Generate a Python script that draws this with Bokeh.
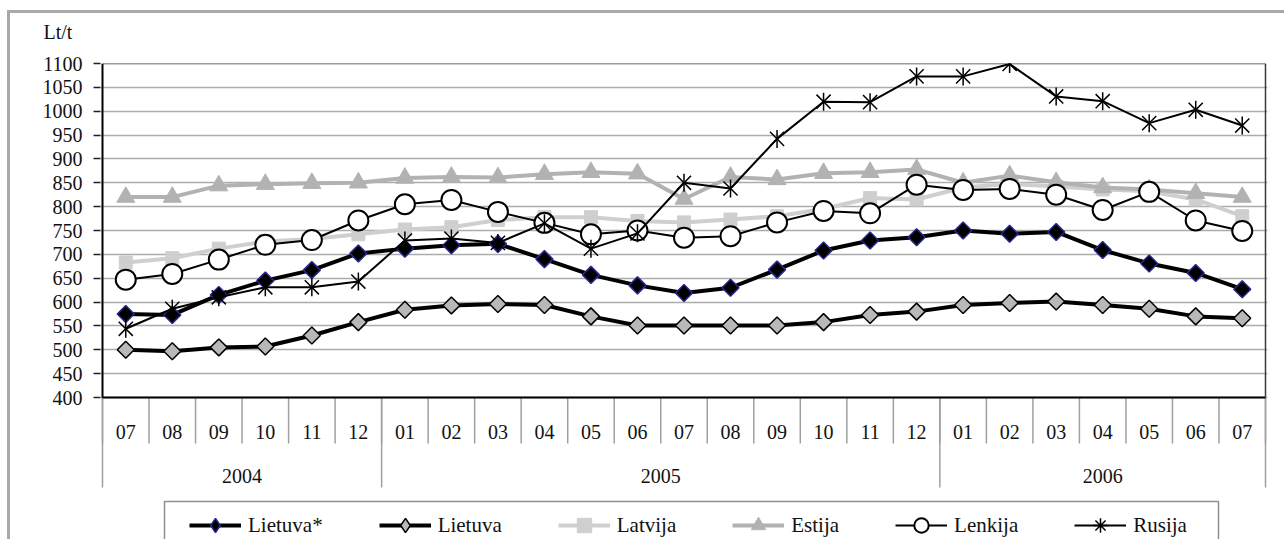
import numpy as np
from bokeh.plotting import figure
from bokeh.models import Range1d, FixedTicker, Legend, LegendItem
from bokeh.core.properties import value
from bokeh.embed import file_html
from bokeh.resources import INLINE

# ---- data ----
months = ["07", "08", "09", "10", "11", "12",
          "01", "02", "03", "04", "05", "06", "07", "08", "09", "10", "11", "12",
          "01", "02", "03", "04", "05", "06", "07"]
years = ["2004", "2005", "2006"]
year_counts = [6, 12, 7]

lietuva_star = [575, 573, 615, 645, 667, 702, 712, 719, 722, 690, 657, 635, 619, 630, 668,
                708, 729, 736, 750, 743, 747, 709, 681, 661, 627]
lietuva = [500, 497, 505, 507, 530, 558, 584, 593, 596, 594, 570, 551, 551, 551, 551,
           558, 573, 580, 594, 598, 601, 594, 586, 570, 566]
latvija = [683, 692, 712, 727, 732, 742, 752, 757, 772, 778, 778, 770, 767, 773, 780,
           795, 818, 815, 840, 848, 842, 836, 832, 815, 780]
estija = [820, 820, 844, 847, 849, 850, 860, 862, 861, 868, 872, 869, 816, 862, 857,
          870, 872, 878, 850, 865, 851, 840, 836, 828, 820]
lenkija = [647, 659, 689, 720, 730, 771, 805, 814, 789, 766, 742, 750, 735, 738, 767,
           791, 786, 846, 835, 837, 825, 793, 831, 771, 749]
rusija = [544, 586, 610, 631, 631, 643, 729, 733, 724, 765, 712, 744, 850, 838, 942,
          1020, 1019, 1073, 1073, 1099, 1031, 1021, 975, 1003, 970]

y_ticks = list(range(400, 1101, 50))
unit_label = "Lt/t"

# ---- layout (pixels) ----
FONT = "Liberation Serif"
n = len(months)
x = list(range(n))
Y0, Y1 = 400, 1100
W, H = 1284, 539
PLOT_H = 334                      # pixel height of the 400..1100 band
UPP = (Y1 - Y0) / PLOT_H          # value units per pixel
FRAME_TOP = 63
FRAME_H = H - FRAME_TOP           # frame extends below the band to hold the category rows
CAT_W = 46.52                     # pixels per category
INSET = 2                         # px of frame beyond the outer category boundaries
FRAME_LEFT = 100
FRAME_W = int(round(n * CAT_W + 2 * INSET))
BAND_LEFT_PX = FRAME_LEFT + INSET

def below(px):
    return Y0 - px * UPP

def page_x(px):
    return -0.5 + (px - BAND_LEFT_PX) / CAT_W

y_start = Y1 - FRAME_H * UPP
x_pad = INSET / CAT_W

BORDER = "linear-gradient(#a9a9a9, #a9a9a9)"
p = figure(width=W, height=H, output_backend="svg", toolbar_location=None,
           x_axis_location=None, title=unit_label,
           x_range=Range1d(-0.5 - x_pad, n - 0.5 + x_pad), y_range=Range1d(y_start, Y1),
           min_border_left=FRAME_LEFT, min_border_top=FRAME_TOP,
           min_border_right=W - FRAME_LEFT - FRAME_W, min_border_bottom=0,
           background_fill_color="white", border_fill_alpha=0.0)
p.styles = {"background": f"{BORDER} 7px 10px / 1300px 3px no-repeat, "
                          f"{BORDER} 7px 10px / 3px 700px no-repeat, white"}
p.outline_line_color = None
p.xgrid.visible = False

p.title.align = "left"
p.title.offset = -57
p.title.vertical_align = "top"
p.title.standoff = 38
p.title.text_font = FONT
p.title.text_font_size = "20px"
p.title.text_font_style = "normal"
p.title.text_color = "#111111"

# y axis
p.yaxis.ticker = FixedTicker(ticks=y_ticks, minor_ticks=[])
p.yaxis.axis_line_color = None
p.yaxis.major_tick_out = 7
p.yaxis.major_tick_in = 0
p.yaxis.major_tick_line_width = 1.5
p.yaxis.major_tick_line_color = "#222222"
p.yaxis.minor_tick_line_color = None
p.yaxis.major_label_text_font = FONT
p.yaxis.major_label_text_font_size = "20px"
p.yaxis.major_label_text_color = "#111111"
p.yaxis.major_label_standoff = 11
p.ygrid.ticker = FixedTicker(ticks=y_ticks)
p.ygrid.grid_line_color = "#acacac"
p.ygrid.grid_line_width = 1.5

# category separators and labels
bounds = [i - 0.5 for i in range(n + 1)]
starts = np.cumsum([0] + year_counts)
year_bounds = [float(s - 0.5) for s in starts]
year_centers = [float((starts[i] + starts[i + 1]) / 2 - 0.5) for i in range(len(years))]

p.segment(x0=bounds, y0=[Y0] * len(bounds), x1=bounds, y1=[below(46)] * len(bounds),
          line_color="#a0a0a0", line_width=1.5)
p.segment(x0=year_bounds, y0=[Y0] * len(year_bounds), x1=year_bounds,
          y1=[below(90)] * len(year_bounds), line_color="#a0a0a0", line_width=1.5)
p.text(x=x, y=[below(34)] * n, text=months, text_font=value(FONT),
       text_font_size=value("20px"), text_color="#111111",
       text_align="center", text_baseline="middle")
p.text(x=year_centers, y=[below(78)] * len(years), text=years, text_font=value(FONT),
       text_font_size=value("20px"), text_color="#111111",
       text_align="center", text_baseline="middle")

# plot box
xl, xr = -0.5, n - 0.5
p.segment(x0=[xl, xl], y0=[Y0, Y0], x1=[xl, xr], y1=[Y1, Y0], line_color="black", line_width=2)
p.segment(x0=[xl, xr], y0=[Y1, Y0], x1=[xr, xr], y1=[Y1, Y1], line_color="#3a3a3a", line_width=1.5)

# legend frame
p.quad(left=[page_x(164)], right=[page_x(1218)], top=[below(104)], bottom=[below(160)],
       fill_color="white", line_color="#8f8f8f", line_width=1.5)

# series
items = []
NOPOS = np.array([np.nan])

def proxy(**kw):
    # legend-only marker (not placed in the plot)
    return p.scatter(x=NOPOS, y=NOPOS, **kw)

l1 = p.line(x, lietuva_star, line_color="black", line_width=4)
p.scatter(x, lietuva_star, marker="square", angle=np.pi / 4, size=12,
          fill_color="black", line_color="#27278f", line_width=1.5)
g1 = proxy(marker="diamond", fill_color="black", line_color="#27278f", line_width=1.5)
items.append(LegendItem(label="Lietuva*", renderers=[l1, g1]))

l2 = p.line(x, lietuva, line_color="black", line_width=4)
p.scatter(x, lietuva, marker="square", angle=np.pi / 4, size=12,
          fill_color="#b8b8b8", line_color="black", line_width=1.5)
g2 = proxy(marker="diamond", fill_color="#b8b8b8", line_color="black", line_width=1.5)
items.append(LegendItem(label="Lietuva", renderers=[l2, g2]))

l3 = p.line(x, latvija, line_color="#cfcfcf", line_width=4)
m3 = p.scatter(x, latvija, marker="square", size=13, fill_color="#cfcfcf", line_color="#cfcfcf")
items.append(LegendItem(label="Latvija", renderers=[l3, m3]))

l4 = p.line(x, estija, line_color="#b2b2b2", line_width=4)
m4 = p.scatter(x, estija, marker="triangle", size=18, fill_color="#b2b2b2", line_color="#b2b2b2")
items.append(LegendItem(label="Estija", renderers=[l4, m4]))

l5 = p.line(x, lenkija, line_color="black", line_width=2)
m5 = p.scatter(x, lenkija, marker="circle", size=20, fill_color="white", line_color="black",
               line_width=2)
items.append(LegendItem(label="Lenkija", renderers=[l5, m5]))

l6 = p.line(x, rusija, line_color="black", line_width=2)
p.scatter(x, rusija, marker="x", size=20, line_color="black", line_width=1.5)
p.scatter(x, rusija, marker="dash", angle=np.pi / 2, size=18, line_color="black",
          line_width=1.5)
g6 = proxy(marker="asterisk", line_color="black", line_width=1.5)
items.append(LegendItem(label="Rusija", renderers=[l6, g6]))

legend = Legend(items=items, orientation="horizontal", location=(89, -4),
                label_text_font=FONT, label_text_font_size="21px", label_text_color="#111111",
                glyph_width=52, glyph_height=36, label_height=21, label_standoff=7,
                spacing=56, padding=4, margin=0,
                border_line_color=None, background_fill_alpha=0.0)
p.add_layout(legend, "center")

open("out.html", "w").write(file_html(p, INLINE))
